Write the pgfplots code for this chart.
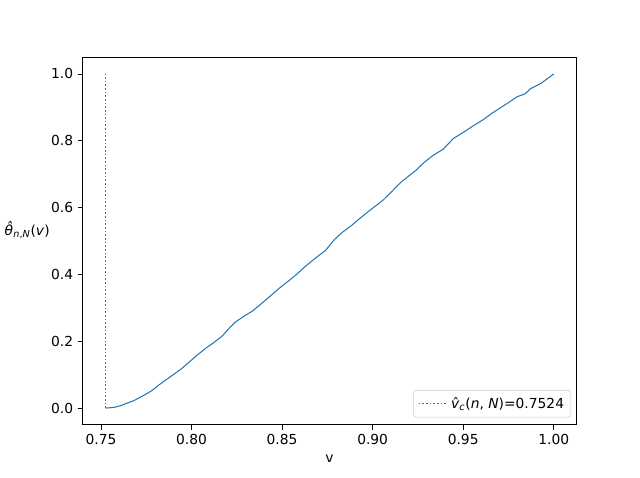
\documentclass[border=0pt]{standalone}
\usepackage{pgfplots}
\pgfplotsset{compat=1.18}
\usepackage{fontspec}
\setmainfont{DejaVu Sans}
\definecolor{c0}{HTML}{1F77B4}
\begin{document}
\begin{tikzpicture}
\begin{axis}[
  scale only axis,
  width=357pt, height=266pt,
  xmin=0.74002, xmax=1.01238,
  ymin=-0.05, ymax=1.05,
  xtick={0.75,0.80,0.85,0.90,0.95,1.00},
  ytick={0,0.2,0.4,0.6,0.8,1.0},
  xticklabel style={/pgf/number format/.cd,fixed,fixed zerofill,precision=2},
  yticklabel style={/pgf/number format/.cd,fixed,fixed zerofill,precision=1},
  /pgf/number format/assume math mode=true,
  tick align=outside,
  tick style={black, line width=0.6pt},
  major tick length=3.5pt,
  xtick pos=bottom, ytick pos=left,
  axis line style={line width=0.6pt},
  every tick label/.append style={font=\fontsize{10}{12}\selectfont},
  xlabel={v},
  xlabel style={font=\fontsize{10}{12}\selectfont},
  ylabel={\textit{\^{θ}}\textsubscript{\textit{n},\textit{N}}(\textit{v})},
  ylabel style={rotate=-90, at={(axis description cs:-0.113,0.53)}, anchor=center, font=\fontsize{10}{12}\selectfont},
  legend style={at={(0.99,0.02)}, anchor=south east, font=\fontsize{10}{12}\selectfont, draw=black!20, rounded corners=2pt, inner sep=3pt},
  legend cell align=left,
  legend image code/.code={\draw[#1] (0pt,0pt) -- (21pt,0pt);},
]
\addplot[draw=c0, line width=1.1pt, line cap=butt, dash pattern=on 1.2pt off 1.45pt] coordinates {(0.7526,0) (0.7526,1)};
\addlegendentry{\^{\textit{v}}\textsubscript{\textit{c}}(\textit{n}, \textit{N})=0.7524}
\addplot[c0, line width=0.75pt, forget plot] coordinates {
(0.7526,0) (0.755,0.001) (0.758,0.003) (0.7613,0.008) (0.765,0.016) (0.768,0.022)
(0.7743,0.040) (0.778,0.052) (0.7817,0.068) (0.786,0.085) (0.791,0.104) (0.795,0.120)
(0.7983,0.136) (0.803,0.158) (0.8076,0.178) (0.812,0.195) (0.8168,0.215) (0.821,0.240)
(0.8243,0.258) (0.829,0.275) (0.8335,0.290) (0.838,0.310) (0.843,0.333) (0.8483,0.358)
(0.853,0.378) (0.858,0.400) (0.863,0.425) (0.8687,0.450) (0.874,0.472) (0.879,0.505)
(0.8835,0.527) (0.888,0.545) (0.893,0.568) (0.898,0.590) (0.9057,0.622) (0.910,0.645)
(0.915,0.673) (0.920,0.695) (0.924,0.712) (0.928,0.733) (0.933,0.755) (0.939,0.775)
(0.9446,0.807) (0.950,0.825) (0.955,0.843) (0.9613,0.864) (0.966,0.883) (0.971,0.900)
(0.976,0.918) (0.9798,0.932) (0.984,0.940) (0.9872,0.956) (0.993,0.972) (1.0,1.0)
};
\end{axis}
\path[use as bounding box] ([shift={(-57.6pt,-38.16pt)}]current axis.south west) rectangle ++(460.8pt,345.6pt);
\end{tikzpicture}
\end{document}
